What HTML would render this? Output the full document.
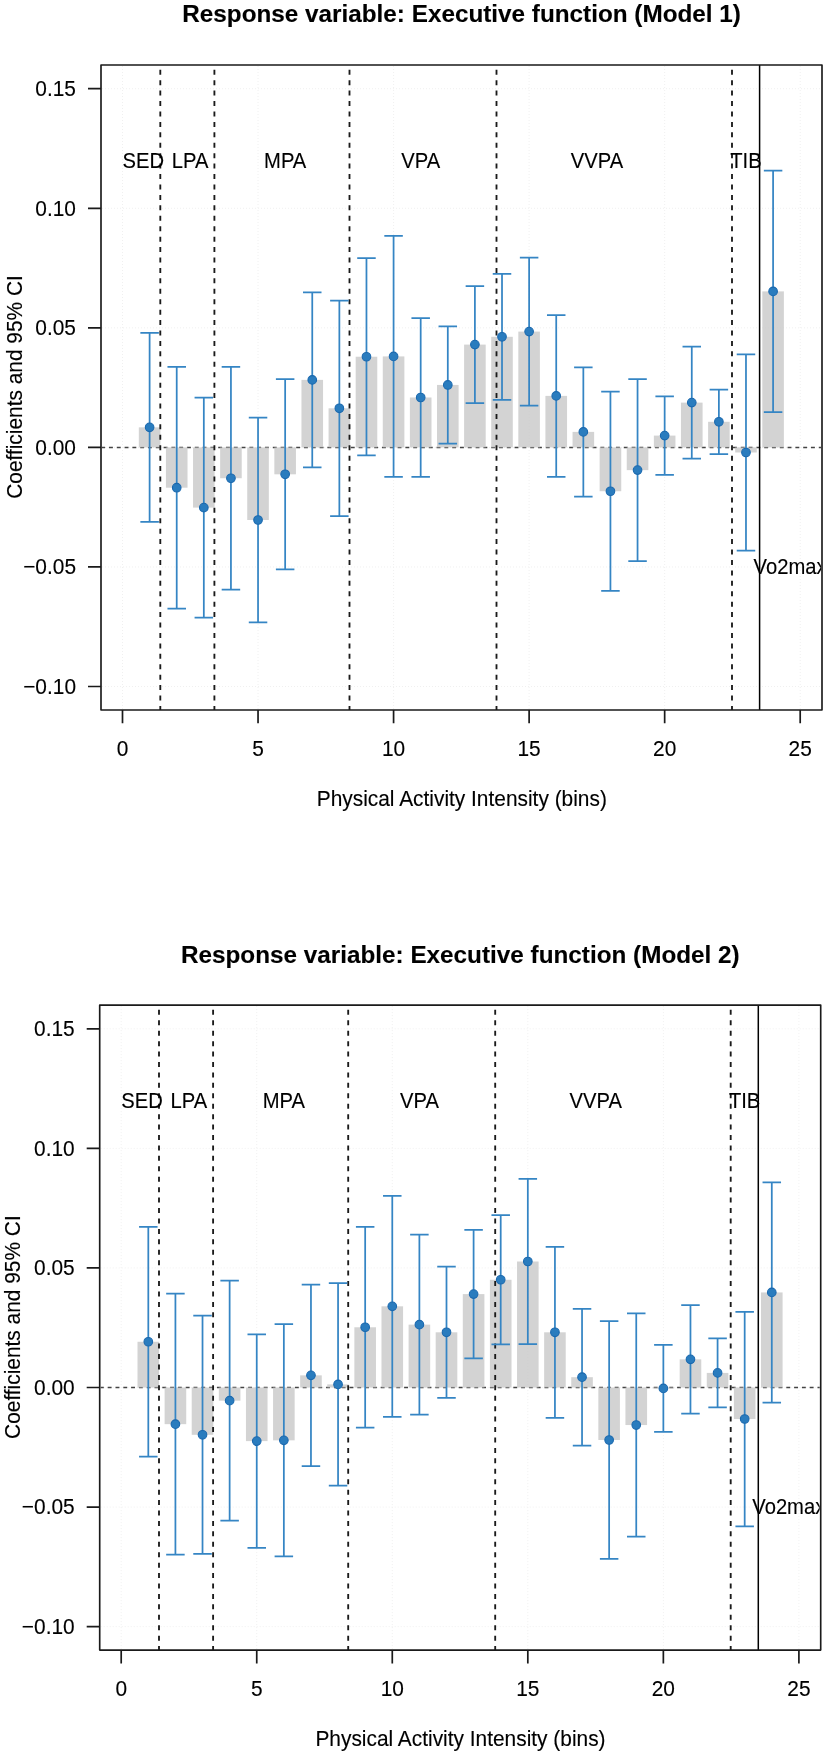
<!DOCTYPE html>
<html><head><meta charset="utf-8"><style>
html,body{margin:0;padding:0;background:#fff;overflow:hidden;width:827px;height:1756px;}
svg{display:block;}
text{font-family:"Liberation Sans", sans-serif;stroke:#000;stroke-width:0.12px;}
svg{will-change:transform;}
</style></head><body>
<svg width="827" height="1756" viewBox="0 0 827 1756">
<defs><clipPath id="clipR"><rect x="0" y="0" width="821" height="1756"/></clipPath></defs>
<rect width="827" height="1756" fill="#fff"/>
<g transform="translate(0,0)">
<text transform="translate(461.6,22.4) scale(1,0.975)" text-anchor="middle" font-weight="bold" font-size="24.3" fill="#000">Response variable: Executive function (Model 1)</text>
<line x1="122.50" y1="66" x2="122.50" y2="709" stroke="#f0f0f0" stroke-width="1" stroke-dasharray="1 2"/>
<line x1="258.04" y1="66" x2="258.04" y2="709" stroke="#f0f0f0" stroke-width="1" stroke-dasharray="1 2"/>
<line x1="393.58" y1="66" x2="393.58" y2="709" stroke="#f0f0f0" stroke-width="1" stroke-dasharray="1 2"/>
<line x1="529.12" y1="66" x2="529.12" y2="709" stroke="#f0f0f0" stroke-width="1" stroke-dasharray="1 2"/>
<line x1="664.66" y1="66" x2="664.66" y2="709" stroke="#f0f0f0" stroke-width="1" stroke-dasharray="1 2"/>
<line x1="800.20" y1="66" x2="800.20" y2="709" stroke="#f0f0f0" stroke-width="1" stroke-dasharray="1 2"/>
<line x1="102" y1="88.72" x2="821" y2="88.72" stroke="#f0f0f0" stroke-width="1" stroke-dasharray="1 2"/>
<line x1="102" y1="208.28" x2="821" y2="208.28" stroke="#f0f0f0" stroke-width="1" stroke-dasharray="1 2"/>
<line x1="102" y1="327.84" x2="821" y2="327.84" stroke="#f0f0f0" stroke-width="1" stroke-dasharray="1 2"/>
<line x1="102" y1="447.40" x2="821" y2="447.40" stroke="#f0f0f0" stroke-width="1" stroke-dasharray="1 2"/>
<line x1="102" y1="566.96" x2="821" y2="566.96" stroke="#f0f0f0" stroke-width="1" stroke-dasharray="1 2"/>
<line x1="102" y1="686.52" x2="821" y2="686.52" stroke="#f0f0f0" stroke-width="1" stroke-dasharray="1 2"/>
<line x1="102" y1="447.4" x2="821" y2="447.4" stroke="#444" stroke-width="1.5" stroke-dasharray="3.9 3.9" stroke-dashoffset="0.8"/>
<rect x="138.81" y="427.35" width="21.6" height="20.05" fill="#c8c8c8" fill-opacity="0.8"/>
<rect x="165.92" y="447.40" width="21.6" height="40.30" fill="#c8c8c8" fill-opacity="0.8"/>
<rect x="193.02" y="447.40" width="21.6" height="60.20" fill="#c8c8c8" fill-opacity="0.8"/>
<rect x="220.13" y="447.40" width="21.6" height="30.83" fill="#c8c8c8" fill-opacity="0.8"/>
<rect x="247.24" y="447.40" width="21.6" height="72.60" fill="#c8c8c8" fill-opacity="0.8"/>
<rect x="274.35" y="447.40" width="21.6" height="26.90" fill="#c8c8c8" fill-opacity="0.8"/>
<rect x="301.46" y="379.88" width="21.6" height="67.52" fill="#c8c8c8" fill-opacity="0.8"/>
<rect x="328.56" y="408.30" width="21.6" height="39.10" fill="#c8c8c8" fill-opacity="0.8"/>
<rect x="355.67" y="356.73" width="21.6" height="90.67" fill="#c8c8c8" fill-opacity="0.8"/>
<rect x="382.78" y="356.43" width="21.6" height="90.97" fill="#c8c8c8" fill-opacity="0.8"/>
<rect x="409.89" y="397.48" width="21.6" height="49.92" fill="#c8c8c8" fill-opacity="0.8"/>
<rect x="437.00" y="384.95" width="21.6" height="62.45" fill="#c8c8c8" fill-opacity="0.8"/>
<rect x="464.10" y="344.60" width="21.6" height="102.80" fill="#c8c8c8" fill-opacity="0.8"/>
<rect x="491.21" y="336.80" width="21.6" height="110.60" fill="#c8c8c8" fill-opacity="0.8"/>
<rect x="518.32" y="331.60" width="21.6" height="115.80" fill="#c8c8c8" fill-opacity="0.8"/>
<rect x="545.43" y="395.90" width="21.6" height="51.50" fill="#c8c8c8" fill-opacity="0.8"/>
<rect x="572.54" y="431.90" width="21.6" height="15.50" fill="#c8c8c8" fill-opacity="0.8"/>
<rect x="599.64" y="447.40" width="21.6" height="43.83" fill="#c8c8c8" fill-opacity="0.8"/>
<rect x="626.75" y="447.40" width="21.6" height="22.73" fill="#c8c8c8" fill-opacity="0.8"/>
<rect x="653.86" y="435.60" width="21.6" height="11.80" fill="#c8c8c8" fill-opacity="0.8"/>
<rect x="680.97" y="402.62" width="21.6" height="44.77" fill="#c8c8c8" fill-opacity="0.8"/>
<rect x="708.08" y="421.80" width="21.6" height="25.60" fill="#c8c8c8" fill-opacity="0.8"/>
<rect x="735.18" y="447.40" width="21.6" height="5.10" fill="#c8c8c8" fill-opacity="0.8"/>
<rect x="762.29" y="291.38" width="21.6" height="156.02" fill="#c8c8c8" fill-opacity="0.8"/>
<line x1="160.3" y1="69.75" x2="160.3" y2="710" stroke="#1a1a1a" stroke-width="1.85" stroke-dasharray="5.0 5.43"/>
<line x1="214.4" y1="69.75" x2="214.4" y2="710" stroke="#1a1a1a" stroke-width="1.85" stroke-dasharray="5.0 5.43"/>
<line x1="349.5" y1="69.75" x2="349.5" y2="710" stroke="#1a1a1a" stroke-width="1.85" stroke-dasharray="5.0 5.43"/>
<line x1="496.5" y1="69.75" x2="496.5" y2="710" stroke="#1a1a1a" stroke-width="1.85" stroke-dasharray="5.0 5.43"/>
<line x1="732.0" y1="69.75" x2="732.0" y2="710" stroke="#1a1a1a" stroke-width="1.85" stroke-dasharray="5.0 5.43"/>
<line x1="759.6" y1="65" x2="759.6" y2="710" stroke="#000" stroke-width="1.5"/>
<path d="M149.61 332.85V521.85M140.36 332.85H158.86M140.36 521.85H158.86" stroke="#3585c4" stroke-width="1.75" fill="none"/>
<circle cx="149.61" cy="427.35" r="4.3" fill="#2a7cbe" stroke="#1a68ae" stroke-width="1.1"/>
<path d="M176.72 366.80V608.60M167.47 366.80H185.97M167.47 608.60H185.97" stroke="#3585c4" stroke-width="1.75" fill="none"/>
<circle cx="176.72" cy="487.70" r="4.3" fill="#2a7cbe" stroke="#1a68ae" stroke-width="1.1"/>
<path d="M203.82 397.50V617.70M194.57 397.50H213.07M194.57 617.70H213.07" stroke="#3585c4" stroke-width="1.75" fill="none"/>
<circle cx="203.82" cy="507.60" r="4.3" fill="#2a7cbe" stroke="#1a68ae" stroke-width="1.1"/>
<path d="M230.93 366.78V589.67M221.68 366.78H240.18M221.68 589.67H240.18" stroke="#3585c4" stroke-width="1.75" fill="none"/>
<circle cx="230.93" cy="478.23" r="4.3" fill="#2a7cbe" stroke="#1a68ae" stroke-width="1.1"/>
<path d="M258.04 417.70V622.30M248.79 417.70H267.29M248.79 622.30H267.29" stroke="#3585c4" stroke-width="1.75" fill="none"/>
<circle cx="258.04" cy="520.00" r="4.3" fill="#2a7cbe" stroke="#1a68ae" stroke-width="1.1"/>
<path d="M285.15 379.20V569.40M275.90 379.20H294.40M275.90 569.40H294.40" stroke="#3585c4" stroke-width="1.75" fill="none"/>
<circle cx="285.15" cy="474.30" r="4.3" fill="#2a7cbe" stroke="#1a68ae" stroke-width="1.1"/>
<path d="M312.26 292.42V467.33M303.01 292.42H321.51M303.01 467.33H321.51" stroke="#3585c4" stroke-width="1.75" fill="none"/>
<circle cx="312.26" cy="379.88" r="4.3" fill="#2a7cbe" stroke="#1a68ae" stroke-width="1.1"/>
<path d="M339.36 300.60V516.00M330.11 300.60H348.61M330.11 516.00H348.61" stroke="#3585c4" stroke-width="1.75" fill="none"/>
<circle cx="339.36" cy="408.30" r="4.3" fill="#2a7cbe" stroke="#1a68ae" stroke-width="1.1"/>
<path d="M366.47 258.18V455.28M357.22 258.18H375.72M357.22 455.28H375.72" stroke="#3585c4" stroke-width="1.75" fill="none"/>
<circle cx="366.47" cy="356.73" r="4.3" fill="#2a7cbe" stroke="#1a68ae" stroke-width="1.1"/>
<path d="M393.58 235.98V476.88M384.33 235.98H402.83M384.33 476.88H402.83" stroke="#3585c4" stroke-width="1.75" fill="none"/>
<circle cx="393.58" cy="356.43" r="4.3" fill="#2a7cbe" stroke="#1a68ae" stroke-width="1.1"/>
<path d="M420.69 318.02V476.93M411.44 318.02H429.94M411.44 476.93H429.94" stroke="#3585c4" stroke-width="1.75" fill="none"/>
<circle cx="420.69" cy="397.48" r="4.3" fill="#2a7cbe" stroke="#1a68ae" stroke-width="1.1"/>
<path d="M447.80 326.25V443.65M438.55 326.25H457.05M438.55 443.65H457.05" stroke="#3585c4" stroke-width="1.75" fill="none"/>
<circle cx="447.80" cy="384.95" r="4.3" fill="#2a7cbe" stroke="#1a68ae" stroke-width="1.1"/>
<path d="M474.90 286.00V403.20M465.65 286.00H484.15M465.65 403.20H484.15" stroke="#3585c4" stroke-width="1.75" fill="none"/>
<circle cx="474.90" cy="344.60" r="4.3" fill="#2a7cbe" stroke="#1a68ae" stroke-width="1.1"/>
<path d="M502.01 273.80V399.80M492.76 273.80H511.26M492.76 399.80H511.26" stroke="#3585c4" stroke-width="1.75" fill="none"/>
<circle cx="502.01" cy="336.80" r="4.3" fill="#2a7cbe" stroke="#1a68ae" stroke-width="1.1"/>
<path d="M529.12 257.50V405.70M519.87 257.50H538.37M519.87 405.70H538.37" stroke="#3585c4" stroke-width="1.75" fill="none"/>
<circle cx="529.12" cy="331.60" r="4.3" fill="#2a7cbe" stroke="#1a68ae" stroke-width="1.1"/>
<path d="M556.23 315.00V476.80M546.98 315.00H565.48M546.98 476.80H565.48" stroke="#3585c4" stroke-width="1.75" fill="none"/>
<circle cx="556.23" cy="395.90" r="4.3" fill="#2a7cbe" stroke="#1a68ae" stroke-width="1.1"/>
<path d="M583.34 367.30V496.50M574.09 367.30H592.59M574.09 496.50H592.59" stroke="#3585c4" stroke-width="1.75" fill="none"/>
<circle cx="583.34" cy="431.90" r="4.3" fill="#2a7cbe" stroke="#1a68ae" stroke-width="1.1"/>
<path d="M610.44 391.58V590.88M601.19 391.58H619.69M601.19 590.88H619.69" stroke="#3585c4" stroke-width="1.75" fill="none"/>
<circle cx="610.44" cy="491.23" r="4.3" fill="#2a7cbe" stroke="#1a68ae" stroke-width="1.1"/>
<path d="M637.55 379.07V561.17M628.30 379.07H646.80M628.30 561.17H646.80" stroke="#3585c4" stroke-width="1.75" fill="none"/>
<circle cx="637.55" cy="470.12" r="4.3" fill="#2a7cbe" stroke="#1a68ae" stroke-width="1.1"/>
<path d="M664.66 396.40V474.80M655.41 396.40H673.91M655.41 474.80H673.91" stroke="#3585c4" stroke-width="1.75" fill="none"/>
<circle cx="664.66" cy="435.60" r="4.3" fill="#2a7cbe" stroke="#1a68ae" stroke-width="1.1"/>
<path d="M691.77 346.68V458.57M682.52 346.68H701.02M682.52 458.57H701.02" stroke="#3585c4" stroke-width="1.75" fill="none"/>
<circle cx="691.77" cy="402.62" r="4.3" fill="#2a7cbe" stroke="#1a68ae" stroke-width="1.1"/>
<path d="M718.88 389.60V454.00M709.63 389.60H728.13M709.63 454.00H728.13" stroke="#3585c4" stroke-width="1.75" fill="none"/>
<circle cx="718.88" cy="421.80" r="4.3" fill="#2a7cbe" stroke="#1a68ae" stroke-width="1.1"/>
<path d="M745.98 354.40V550.60M736.73 354.40H755.23M736.73 550.60H755.23" stroke="#3585c4" stroke-width="1.75" fill="none"/>
<circle cx="745.98" cy="452.50" r="4.3" fill="#2a7cbe" stroke="#1a68ae" stroke-width="1.1"/>
<path d="M773.09 170.62V412.12M763.84 170.62H782.34M763.84 412.12H782.34" stroke="#3585c4" stroke-width="1.75" fill="none"/>
<circle cx="773.09" cy="291.38" r="4.3" fill="#2a7cbe" stroke="#1a68ae" stroke-width="1.1"/>
<g font-size="20.2" fill="#000">
<text transform="translate(122.6,168) scale(1,1.097)">SED</text>
<text transform="translate(208.4,168) scale(1,1.097)" text-anchor="end">LPA</text>
<text transform="translate(285.2,168) scale(1,1.097)" text-anchor="middle">MPA</text>
<text transform="translate(420.8,168) scale(1,1.097)" text-anchor="middle">VPA</text>
<text transform="translate(597.0,168) scale(1,1.097)" text-anchor="middle">VVPA</text>
<text transform="translate(745.9,168) scale(1,1.097)" text-anchor="middle">TIB</text>
<g clip-path="url(#clipR)"><text transform="translate(753.6,573.7) scale(1,1.097)">Vo2max</text></g>
</g>
<rect x="101" y="65" width="721" height="645" fill="none" stroke="#1a1a1a" stroke-width="1.65" stroke-linejoin="round"/>
<path d="M88 88.72H101M88 208.28H101M88 327.84H101M88 447.40H101M88 566.96H101M88 686.52H101M122.50 710V723.3M258.04 710V723.3M393.58 710V723.3M529.12 710V723.3M664.66 710V723.3M800.20 710V723.3" stroke="#1a1a1a" stroke-width="1.7" fill="none"/>
<g font-size="20.9" fill="#000">
<text transform="translate(76,96.02) scale(1,1.06)" text-anchor="end">0.15</text>
<text transform="translate(76,215.58) scale(1,1.06)" text-anchor="end">0.10</text>
<text transform="translate(76,335.14) scale(1,1.06)" text-anchor="end">0.05</text>
<text transform="translate(76,454.7) scale(1,1.06)" text-anchor="end">0.00</text>
<text transform="translate(76,574.26) scale(1,1.06)" text-anchor="end">−0.05</text>
<text transform="translate(76,693.82) scale(1,1.06)" text-anchor="end">−0.10</text>
<text transform="translate(122.5,755.8) scale(1,1.06)" text-anchor="middle">0</text>
<text transform="translate(258.04,755.8) scale(1,1.06)" text-anchor="middle">5</text>
<text transform="translate(393.58,755.8) scale(1,1.06)" text-anchor="middle">10</text>
<text transform="translate(529.12,755.8) scale(1,1.06)" text-anchor="middle">15</text>
<text transform="translate(664.66,755.8) scale(1,1.06)" text-anchor="middle">20</text>
<text transform="translate(800.2,755.8) scale(1,1.06)" text-anchor="middle">25</text>
<text transform="translate(461.8,805.6) scale(1,1.06)" text-anchor="middle">Physical Activity Intensity (bins)</text>
<text transform="translate(21.6,387) rotate(-90) scale(1,1.06)" text-anchor="middle">Coefficients and 95% CI</text>
</g>
</g>
<g transform="translate(-1.3,940.1)">
<text transform="translate(461.6,22.4) scale(1,0.975)" text-anchor="middle" font-weight="bold" font-size="24.3" fill="#000">Response variable: Executive function (Model 2)</text>
<line x1="122.50" y1="66" x2="122.50" y2="709" stroke="#f0f0f0" stroke-width="1" stroke-dasharray="1 2"/>
<line x1="258.04" y1="66" x2="258.04" y2="709" stroke="#f0f0f0" stroke-width="1" stroke-dasharray="1 2"/>
<line x1="393.58" y1="66" x2="393.58" y2="709" stroke="#f0f0f0" stroke-width="1" stroke-dasharray="1 2"/>
<line x1="529.12" y1="66" x2="529.12" y2="709" stroke="#f0f0f0" stroke-width="1" stroke-dasharray="1 2"/>
<line x1="664.66" y1="66" x2="664.66" y2="709" stroke="#f0f0f0" stroke-width="1" stroke-dasharray="1 2"/>
<line x1="800.20" y1="66" x2="800.20" y2="709" stroke="#f0f0f0" stroke-width="1" stroke-dasharray="1 2"/>
<line x1="102" y1="88.72" x2="821" y2="88.72" stroke="#f0f0f0" stroke-width="1" stroke-dasharray="1 2"/>
<line x1="102" y1="208.28" x2="821" y2="208.28" stroke="#f0f0f0" stroke-width="1" stroke-dasharray="1 2"/>
<line x1="102" y1="327.84" x2="821" y2="327.84" stroke="#f0f0f0" stroke-width="1" stroke-dasharray="1 2"/>
<line x1="102" y1="447.40" x2="821" y2="447.40" stroke="#f0f0f0" stroke-width="1" stroke-dasharray="1 2"/>
<line x1="102" y1="566.96" x2="821" y2="566.96" stroke="#f0f0f0" stroke-width="1" stroke-dasharray="1 2"/>
<line x1="102" y1="686.52" x2="821" y2="686.52" stroke="#f0f0f0" stroke-width="1" stroke-dasharray="1 2"/>
<line x1="102" y1="447.4" x2="821" y2="447.4" stroke="#444" stroke-width="1.5" stroke-dasharray="3.9 3.9" stroke-dashoffset="0.8"/>
<rect x="138.81" y="401.67" width="21.6" height="45.73" fill="#c8c8c8" fill-opacity="0.8"/>
<rect x="165.92" y="447.40" width="21.6" height="36.65" fill="#c8c8c8" fill-opacity="0.8"/>
<rect x="193.02" y="447.40" width="21.6" height="47.30" fill="#c8c8c8" fill-opacity="0.8"/>
<rect x="220.13" y="447.40" width="21.6" height="13.18" fill="#c8c8c8" fill-opacity="0.8"/>
<rect x="247.24" y="447.40" width="21.6" height="53.62" fill="#c8c8c8" fill-opacity="0.8"/>
<rect x="274.35" y="447.40" width="21.6" height="52.82" fill="#c8c8c8" fill-opacity="0.8"/>
<rect x="301.46" y="435.25" width="21.6" height="12.15" fill="#c8c8c8" fill-opacity="0.8"/>
<rect x="328.56" y="444.28" width="21.6" height="3.12" fill="#c8c8c8" fill-opacity="0.8"/>
<rect x="355.67" y="387.17" width="21.6" height="60.23" fill="#c8c8c8" fill-opacity="0.8"/>
<rect x="382.78" y="366.22" width="21.6" height="81.18" fill="#c8c8c8" fill-opacity="0.8"/>
<rect x="409.89" y="384.55" width="21.6" height="62.85" fill="#c8c8c8" fill-opacity="0.8"/>
<rect x="437.00" y="392.20" width="21.6" height="55.20" fill="#c8c8c8" fill-opacity="0.8"/>
<rect x="464.10" y="354.00" width="21.6" height="93.40" fill="#c8c8c8" fill-opacity="0.8"/>
<rect x="491.21" y="339.67" width="21.6" height="107.73" fill="#c8c8c8" fill-opacity="0.8"/>
<rect x="518.32" y="321.40" width="21.6" height="126.00" fill="#c8c8c8" fill-opacity="0.8"/>
<rect x="545.43" y="392.20" width="21.6" height="55.20" fill="#c8c8c8" fill-opacity="0.8"/>
<rect x="572.54" y="437.07" width="21.6" height="10.32" fill="#c8c8c8" fill-opacity="0.8"/>
<rect x="599.64" y="447.40" width="21.6" height="52.50" fill="#c8c8c8" fill-opacity="0.8"/>
<rect x="626.75" y="447.40" width="21.6" height="37.53" fill="#c8c8c8" fill-opacity="0.8"/>
<rect x="653.86" y="447.40" width="21.6" height="0.93" fill="#c8c8c8" fill-opacity="0.8"/>
<rect x="680.97" y="419.25" width="21.6" height="28.15" fill="#c8c8c8" fill-opacity="0.8"/>
<rect x="708.08" y="432.83" width="21.6" height="14.57" fill="#c8c8c8" fill-opacity="0.8"/>
<rect x="735.18" y="447.40" width="21.6" height="31.52" fill="#c8c8c8" fill-opacity="0.8"/>
<rect x="762.29" y="352.32" width="21.6" height="95.07" fill="#c8c8c8" fill-opacity="0.8"/>
<line x1="160.3" y1="69.75" x2="160.3" y2="710" stroke="#1a1a1a" stroke-width="1.85" stroke-dasharray="5.0 5.43"/>
<line x1="214.4" y1="69.75" x2="214.4" y2="710" stroke="#1a1a1a" stroke-width="1.85" stroke-dasharray="5.0 5.43"/>
<line x1="349.5" y1="69.75" x2="349.5" y2="710" stroke="#1a1a1a" stroke-width="1.85" stroke-dasharray="5.0 5.43"/>
<line x1="496.5" y1="69.75" x2="496.5" y2="710" stroke="#1a1a1a" stroke-width="1.85" stroke-dasharray="5.0 5.43"/>
<line x1="732.0" y1="69.75" x2="732.0" y2="710" stroke="#1a1a1a" stroke-width="1.85" stroke-dasharray="5.0 5.43"/>
<line x1="759.6" y1="65" x2="759.6" y2="710" stroke="#000" stroke-width="1.5"/>
<path d="M149.61 286.83V516.52M140.36 286.83H158.86M140.36 516.52H158.86" stroke="#3585c4" stroke-width="1.75" fill="none"/>
<circle cx="149.61" cy="401.67" r="4.3" fill="#2a7cbe" stroke="#1a68ae" stroke-width="1.1"/>
<path d="M176.72 353.65V614.45M167.47 353.65H185.97M167.47 614.45H185.97" stroke="#3585c4" stroke-width="1.75" fill="none"/>
<circle cx="176.72" cy="484.05" r="4.3" fill="#2a7cbe" stroke="#1a68ae" stroke-width="1.1"/>
<path d="M203.82 375.60V613.80M194.57 375.60H213.07M194.57 613.80H213.07" stroke="#3585c4" stroke-width="1.75" fill="none"/>
<circle cx="203.82" cy="494.70" r="4.3" fill="#2a7cbe" stroke="#1a68ae" stroke-width="1.1"/>
<path d="M230.93 340.63V580.52M221.68 340.63H240.18M221.68 580.52H240.18" stroke="#3585c4" stroke-width="1.75" fill="none"/>
<circle cx="230.93" cy="460.57" r="4.3" fill="#2a7cbe" stroke="#1a68ae" stroke-width="1.1"/>
<path d="M258.04 394.17V607.88M248.79 394.17H267.29M248.79 607.88H267.29" stroke="#3585c4" stroke-width="1.75" fill="none"/>
<circle cx="258.04" cy="501.02" r="4.3" fill="#2a7cbe" stroke="#1a68ae" stroke-width="1.1"/>
<path d="M285.15 384.07V616.38M275.90 384.07H294.40M275.90 616.38H294.40" stroke="#3585c4" stroke-width="1.75" fill="none"/>
<circle cx="285.15" cy="500.22" r="4.3" fill="#2a7cbe" stroke="#1a68ae" stroke-width="1.1"/>
<path d="M312.26 344.55V525.95M303.01 344.55H321.51M303.01 525.95H321.51" stroke="#3585c4" stroke-width="1.75" fill="none"/>
<circle cx="312.26" cy="435.25" r="4.3" fill="#2a7cbe" stroke="#1a68ae" stroke-width="1.1"/>
<path d="M339.36 342.93V545.62M330.11 342.93H348.61M330.11 545.62H348.61" stroke="#3585c4" stroke-width="1.75" fill="none"/>
<circle cx="339.36" cy="444.28" r="4.3" fill="#2a7cbe" stroke="#1a68ae" stroke-width="1.1"/>
<path d="M366.47 286.83V487.52M357.22 286.83H375.72M357.22 487.52H375.72" stroke="#3585c4" stroke-width="1.75" fill="none"/>
<circle cx="366.47" cy="387.17" r="4.3" fill="#2a7cbe" stroke="#1a68ae" stroke-width="1.1"/>
<path d="M393.58 255.78V476.67M384.33 255.78H402.83M384.33 476.67H402.83" stroke="#3585c4" stroke-width="1.75" fill="none"/>
<circle cx="393.58" cy="366.22" r="4.3" fill="#2a7cbe" stroke="#1a68ae" stroke-width="1.1"/>
<path d="M420.69 294.65V474.45M411.44 294.65H429.94M411.44 474.45H429.94" stroke="#3585c4" stroke-width="1.75" fill="none"/>
<circle cx="420.69" cy="384.55" r="4.3" fill="#2a7cbe" stroke="#1a68ae" stroke-width="1.1"/>
<path d="M447.80 326.60V457.80M438.55 326.60H457.05M438.55 457.80H457.05" stroke="#3585c4" stroke-width="1.75" fill="none"/>
<circle cx="447.80" cy="392.20" r="4.3" fill="#2a7cbe" stroke="#1a68ae" stroke-width="1.1"/>
<path d="M474.90 289.70V418.30M465.65 289.70H484.15M465.65 418.30H484.15" stroke="#3585c4" stroke-width="1.75" fill="none"/>
<circle cx="474.90" cy="354.00" r="4.3" fill="#2a7cbe" stroke="#1a68ae" stroke-width="1.1"/>
<path d="M502.01 275.02V404.33M492.76 275.02H511.26M492.76 404.33H511.26" stroke="#3585c4" stroke-width="1.75" fill="none"/>
<circle cx="502.01" cy="339.67" r="4.3" fill="#2a7cbe" stroke="#1a68ae" stroke-width="1.1"/>
<path d="M529.12 238.80V404.00M519.87 238.80H538.37M519.87 404.00H538.37" stroke="#3585c4" stroke-width="1.75" fill="none"/>
<circle cx="529.12" cy="321.40" r="4.3" fill="#2a7cbe" stroke="#1a68ae" stroke-width="1.1"/>
<path d="M556.23 306.70V477.70M546.98 306.70H565.48M546.98 477.70H565.48" stroke="#3585c4" stroke-width="1.75" fill="none"/>
<circle cx="556.23" cy="392.20" r="4.3" fill="#2a7cbe" stroke="#1a68ae" stroke-width="1.1"/>
<path d="M583.34 368.72V505.43M574.09 368.72H592.59M574.09 505.43H592.59" stroke="#3585c4" stroke-width="1.75" fill="none"/>
<circle cx="583.34" cy="437.07" r="4.3" fill="#2a7cbe" stroke="#1a68ae" stroke-width="1.1"/>
<path d="M610.44 381.10V618.70M601.19 381.10H619.69M601.19 618.70H619.69" stroke="#3585c4" stroke-width="1.75" fill="none"/>
<circle cx="610.44" cy="499.90" r="4.3" fill="#2a7cbe" stroke="#1a68ae" stroke-width="1.1"/>
<path d="M637.55 373.28V596.58M628.30 373.28H646.80M628.30 596.58H646.80" stroke="#3585c4" stroke-width="1.75" fill="none"/>
<circle cx="637.55" cy="484.93" r="4.3" fill="#2a7cbe" stroke="#1a68ae" stroke-width="1.1"/>
<path d="M664.66 404.88V491.78M655.41 404.88H673.91M655.41 491.78H673.91" stroke="#3585c4" stroke-width="1.75" fill="none"/>
<circle cx="664.66" cy="448.33" r="4.3" fill="#2a7cbe" stroke="#1a68ae" stroke-width="1.1"/>
<path d="M691.77 364.95V473.55M682.52 364.95H701.02M682.52 473.55H701.02" stroke="#3585c4" stroke-width="1.75" fill="none"/>
<circle cx="691.77" cy="419.25" r="4.3" fill="#2a7cbe" stroke="#1a68ae" stroke-width="1.1"/>
<path d="M718.88 398.28V467.38M709.63 398.28H728.13M709.63 467.38H728.13" stroke="#3585c4" stroke-width="1.75" fill="none"/>
<circle cx="718.88" cy="432.83" r="4.3" fill="#2a7cbe" stroke="#1a68ae" stroke-width="1.1"/>
<path d="M745.98 371.67V586.17M736.73 371.67H755.23M736.73 586.17H755.23" stroke="#3585c4" stroke-width="1.75" fill="none"/>
<circle cx="745.98" cy="478.92" r="4.3" fill="#2a7cbe" stroke="#1a68ae" stroke-width="1.1"/>
<path d="M773.09 242.18V462.47M763.84 242.18H782.34M763.84 462.47H782.34" stroke="#3585c4" stroke-width="1.75" fill="none"/>
<circle cx="773.09" cy="352.32" r="4.3" fill="#2a7cbe" stroke="#1a68ae" stroke-width="1.1"/>
<g font-size="20.2" fill="#000">
<text transform="translate(122.6,168) scale(1,1.097)">SED</text>
<text transform="translate(208.4,168) scale(1,1.097)" text-anchor="end">LPA</text>
<text transform="translate(285.2,168) scale(1,1.097)" text-anchor="middle">MPA</text>
<text transform="translate(420.8,168) scale(1,1.097)" text-anchor="middle">VPA</text>
<text transform="translate(597.0,168) scale(1,1.097)" text-anchor="middle">VVPA</text>
<text transform="translate(745.9,168) scale(1,1.097)" text-anchor="middle">TIB</text>
<g clip-path="url(#clipR)"><text transform="translate(753.6,573.7) scale(1,1.097)">Vo2max</text></g>
</g>
<rect x="101" y="65" width="721" height="645" fill="none" stroke="#1a1a1a" stroke-width="1.65" stroke-linejoin="round"/>
<path d="M88 88.72H101M88 208.28H101M88 327.84H101M88 447.40H101M88 566.96H101M88 686.52H101M122.50 710V723.3M258.04 710V723.3M393.58 710V723.3M529.12 710V723.3M664.66 710V723.3M800.20 710V723.3" stroke="#1a1a1a" stroke-width="1.7" fill="none"/>
<g font-size="20.9" fill="#000">
<text transform="translate(76,96.02) scale(1,1.06)" text-anchor="end">0.15</text>
<text transform="translate(76,215.58) scale(1,1.06)" text-anchor="end">0.10</text>
<text transform="translate(76,335.14) scale(1,1.06)" text-anchor="end">0.05</text>
<text transform="translate(76,454.7) scale(1,1.06)" text-anchor="end">0.00</text>
<text transform="translate(76,574.26) scale(1,1.06)" text-anchor="end">−0.05</text>
<text transform="translate(76,693.82) scale(1,1.06)" text-anchor="end">−0.10</text>
<text transform="translate(122.5,755.8) scale(1,1.06)" text-anchor="middle">0</text>
<text transform="translate(258.04,755.8) scale(1,1.06)" text-anchor="middle">5</text>
<text transform="translate(393.58,755.8) scale(1,1.06)" text-anchor="middle">10</text>
<text transform="translate(529.12,755.8) scale(1,1.06)" text-anchor="middle">15</text>
<text transform="translate(664.66,755.8) scale(1,1.06)" text-anchor="middle">20</text>
<text transform="translate(800.2,755.8) scale(1,1.06)" text-anchor="middle">25</text>
<text transform="translate(461.8,805.6) scale(1,1.06)" text-anchor="middle">Physical Activity Intensity (bins)</text>
<text transform="translate(21.6,387) rotate(-90) scale(1,1.06)" text-anchor="middle">Coefficients and 95% CI</text>
</g>
</g>
</svg>
</body></html>
